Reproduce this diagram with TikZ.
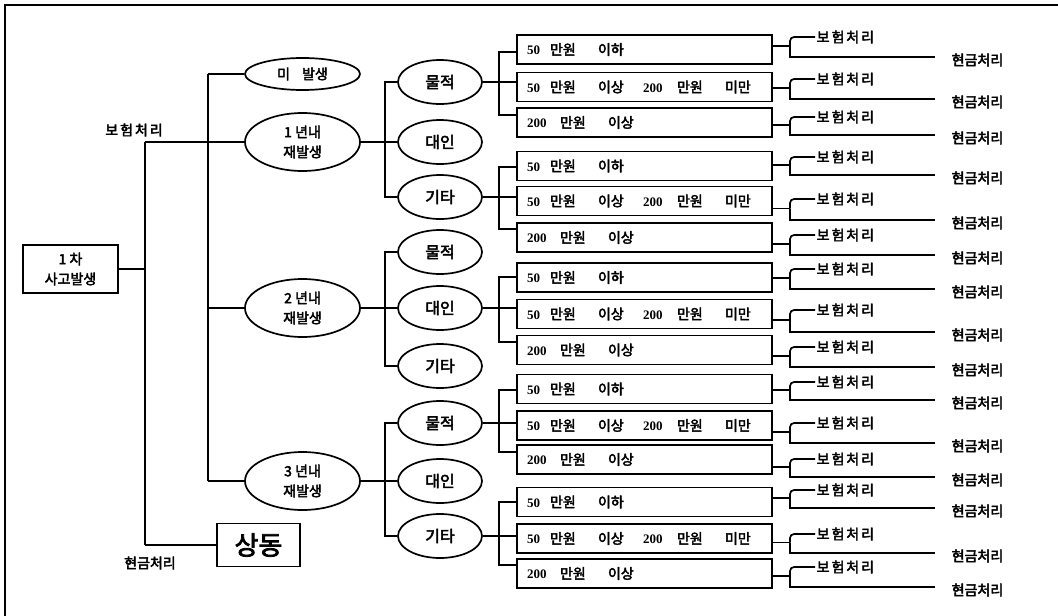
\documentclass[tikz,border=0pt]{standalone}
\usepackage{fontspec}
\setmainfont{Noto Sans CJK KR}[FakeBold=3]
\newfontfamily\krw{Noto Sans CJK KR}[FakeBold=3,LetterSpace=14]
\newfontfamily\numf{Liberation Serif}
\usetikzlibrary{shapes.geometric}
\newcommand\pl[2]{\makebox[0pt][l]{\hspace{#1}#2}}
\newcommand\nm[1]{{\numf\bfseries\fontsize{13}{15}\selectfont #1}}
\newcommand\amtA{\pl{0pt}{\nm{50}}\pl{23pt}{만원}\pl{71pt}{이하}}
\newcommand\amtB{\pl{0pt}{\nm{50}}\pl{23pt}{만원}\pl{71pt}{이상}\pl{116pt}{\nm{200}}\pl{150pt}{만원}\pl{198pt}{미만}}
\newcommand\amtC{\pl{0pt}{\nm{200}}\pl{33pt}{만원}\pl{81pt}{이상}}
\tikzset{
 ln/.style={line width=1.7pt},
 oval/.style={draw, ellipse, line width=1.7pt, inner sep=0pt, align=center, font=\fontsize{14}{20}\selectfont},
 big/.style={oval, minimum width=115pt, minimum height=58pt},
 small/.style={oval, minimum width=84pt, minimum height=44pt, font=\fontsize{16}{18}\selectfont},
 amt/.style={draw, line width=1.7pt, minimum width=255pt, minimum height=29pt, text width=235pt, inner xsep=10pt, inner ysep=0pt, align=left, font=\fontsize{14}{16}\selectfont},
 lab/.style={inner sep=1.5pt, font=\fontsize{14}{16}\selectfont},
 labw/.style={inner sep=1.5pt, font=\krw\fontsize{14}{16}\selectfont},
}
\begin{document}
\begin{tikzpicture}[x=1pt,y=-1pt]
\useasboundingbox (0,0) rectangle (1058,616);
% frame
\draw[line width=1.2pt] (5,616) -- (5,5) -- (1058,5);
% level 1
\node[draw, ln, minimum width=95pt, minimum height=48pt, inner sep=0pt, align=center, font=\fontsize{14}{20}\selectfont] (b0) at (70.5,269) {1 차\\사고발생};
\node[draw, ln, minimum width=83pt, minimum height=43pt, inner sep=0pt, font=\fontsize{26}{28}\selectfont] (sd) at (258.5,545) {상동};
\node[labw] (L1) at (134,130) {보험처리};
\node[lab] (L2) at (150,563) {현금처리};
% level 2
\node[oval, minimum width=115pt, minimum height=32pt] (e0) at (302.5,74) {미\hspace{12pt}발생};
\node[big] (e1) at (302.5,142) {1 년내\\재발생};
\node[big] (e2) at (302.5,308) {2 년내\\재발생};
\node[big] (e3) at (302.5,481) {3 년내\\재발생};
\coordinate (v1t) at (145,142);
\coordinate (v1b) at (145,545);
\coordinate (v2t) at (208,74);
\coordinate (v2b) at (208,481);
\draw[ln] (b0.east) -- (b0.east -| v1t);
\draw[ln] (v1t) -- (v1b);
\draw[ln] (v1t) -- (e1.west);
\draw[ln] (v1b) -- (sd.west);
\draw[ln] (v2t) -- (v2b);
\draw[ln] (v2t) -- (e0.west);
\draw[ln] (v2b) -- (e3.west);
\draw[ln] (e2.west -| v2t) -- (e2.west);
% level 3
\node[small] (m1) at (440,82) {물적};
\node[small] (d1) at (440,142) {대인};
\node[small] (k1) at (440,197) {기타};
\node[small] (m2) at (440,252) {물적};
\node[small] (d2) at (440,308) {대인};
\node[small] (k2) at (440,366) {기타};
\node[small] (m3) at (440,423) {물적};
\node[small] (d3) at (440,481) {대인};
\node[small] (k3) at (440,536) {기타};
\foreach \p/\a/\b/\c in {e1/m1/d1/k1, e2/m2/d2/k2, e3/m3/d3/k3}{
  \draw[ln] (\a.west) -- ++(-12,0) |- (\c.west);
  \draw[ln] (\p.east) -- (\b.west);
}
% amount boxes
\foreach \i/\c/\k in {1/49.5/A,2/87/B,3/122.5/C,4/166/A,5/201/B,6/237.5/C,7/277.5/A,8/314/B,9/350/C,10/389/A,11/425.5/B,12/459.5/C,13/502/A,14/538.5/B,15/573.5/C}{
  \node[amt] (r\i) at (644.5,\c) {\csname amt\k\endcsname};
}
\foreach \a/\b/\c/\ya/\yc/\p in {1/2/3/52/115/m1, 4/5/6/167/229/k1, 7/8/9/277/342/d2, 10/11/12/390/452/m3, 13/14/15/502/565/k3}{
  \draw[ln] (r\a.west |- 0,\ya) -- (499,\ya) -- (499,\yc) -- (r\c.west |- 0,\yc);
  \draw[ln] (\p.east) -- (r\b.west |- \p.east);
}
% right brackets
\foreach \i/\t/\b in {1/35/57, 2/77/99, 3/115/135, 4/155/175, 5/197/220, 6/233/255, 7/267/289, 8/308/332, 9/345/367, 10/380/400, 11/421/443, 12/457/477, 13/488/508, 14/532/553, 15/565/587}{
  \pgfmathsetmacro\mm{(\t+\b)/2}
  \coordinate (j\i) at (790,\mm);
  \coordinate (ce\i) at (935,\b);
  \node[labw, anchor=west] (ins\i) at (815,\t+2) {보험처리};
  \node[lab, anchor=west] (cash\i) at (950,\b+3) {현금처리};
  \draw[ln] (r\i.east |- j\i) -- (j\i);
  \draw[ln, rounded corners=4pt] (j\i) |- (ins\i.west);
  \draw[ln] (j\i) |- (ce\i);
}
\end{tikzpicture}
\end{document}
